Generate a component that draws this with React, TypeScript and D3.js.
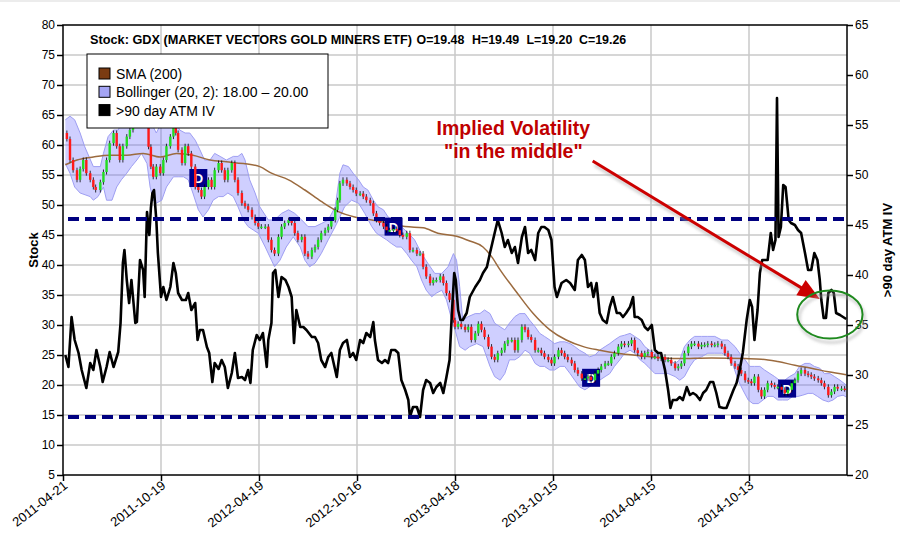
import React, { useEffect, useRef } from "react";
import * as d3 from "d3";

const TOTAL_DAYS = 1008;

const tickDays = [0, 126, 252, 378, 504, 630, 756, 882];
const tickLabels = ["2011-04-21", "2011-10-19", "2012-04-19", "2012-10-16", "2013-04-18", "2013-10-15", "2014-04-15", "2014-10-13"];
const stockTicks = [5, 10, 15, 20, 25, 30, 35, 40, 45, 50, 55, 60, 65, 70, 75, 80];
const ivTicks = [20, 25, 30, 35, 40, 45, 50, 55, 60, 65];

const priceDays = [3,5,9,13,18,22,26,30,35,39,42,48,52,56,60,65,69,73,77,82,86,90,95,99,103,107,110,113,116,120,125,129,133,138,142,145,148,153,157,161,165,170,174,178,182,187,191,195,200,204,208,212,217,221,225,230,234,238,243,247,251,255,260,264,268,272,277,281,285,290,294,298,302,307,311,315,320,324,328,332,337,341,345,350,353,356,360,365,369,373,377,382,386,390,395,399,403,407,412,416,420,425,429,433,437,442,446,450,455,459,463,467,472,476,480,485,489,493,497,502,504,508,512,517,521,525,530,534,538,542,547,551,555,559,564,568,572,577,581,585,590,594,598,602,607,611,615,619,624,628,632,637,641,645,649,654,658,662,667,671,675,679,684,688,692,697,701,705,709,714,718,722,727,731,735,739,744,748,752,757,761,765,769,774,778,782,787,791,795,799,804,808,812,817,821,825,829,834,838,842,847,851,855,859,864,868,872,877,881,885,889,894,898,902,906,911,915,919,924,928,932,937,941,945,949,954,958,962,966,971,975,979,984,988,992,996,1001,1005];
const priceClose = [62,61,57.5,55.8,54.2,56,57.5,55.3,54.2,53,52.5,53.8,55.5,57.5,60.3,62,59.8,57.5,59.8,61.4,62.5,63.6,65.3,65.8,64.2,65,59.7,56.4,54.7,56.4,55.3,57.5,59.8,61.4,63,62,59.2,57,59.8,58.6,56.4,53,52.5,51.4,53,54.2,53,55.8,57,55.8,54.2,55.8,57,54.2,52,50.3,49.8,49.2,48,47,46.4,46.4,46.4,44.2,42.5,41.9,44.7,46.4,47,47.5,47,45.3,44.2,44.7,41.9,41.4,42.5,43,44.2,45.3,45.8,46.4,47.5,49.2,50.8,53.6,54.2,53.6,53,52.5,51.9,51.9,51.4,50.8,50.3,48.6,47.5,47,46.4,45.8,45.8,46,45.8,45,44.7,45.3,42.5,42.5,41.9,41.9,39.7,38.1,37,37.5,37.5,38.1,37,35.3,34.2,30.8,29.7,30.2,29.7,29.2,29.7,27.5,28.6,30.2,29.2,28,26.4,24.7,24.2,25.3,25.8,26.9,27.5,27.5,25.8,27.5,29.7,29.2,28,27.5,25.8,25.8,25.3,24.7,24.2,23.6,24.7,25.8,25.3,24.7,24.2,23.6,22.5,21.9,21.1,21.1,21.4,20.8,21.9,22.5,23.1,23.6,23.6,24.7,25.3,26.4,26.9,26.7,26.9,27.5,25.8,25.3,24.7,25.3,25.5,24.7,24.7,24.4,24.7,24.2,24.2,23.6,22.8,23.1,23.6,25.3,26.4,26.9,26.9,26.4,26.7,26.7,26.9,26.7,26.7,26.9,26.4,25.3,24.7,23.6,23.1,22.5,21.9,20.8,20.6,20.3,21.4,19.2,18.1,19.2,20.3,20,19.7,19.7,19.2,18.6,19.2,20.3,20.8,21.9,22.5,21.9,21.7,21.4,21.1,20.8,20.3,19.7,18.3,18.9,19.7,19.4,19.4,19.3];

const bbUpperDays = [3,9,15,22,28,39,48,52,58,65,71,77,86,95,101,108,112,116,120,125,133,140,144,150,157,163,170,176,182,189,195,202,210,219,225,230,234,240,247,253,264,272,281,290,298,307,315,324,332,341,350,356,360,367,373,380,386,392,399,405,412,418,427,435,444,452,461,469,478,487,495,502,506,510,514,521,530,536,542,549,555,562,568,574,581,587,594,600,607,613,619,626,632,639,645,652,658,664,671,677,684,690,697,703,709,716,722,729,735,742,748,754,761,769,778,787,793,799,806,812,821,829,838,847,855,864,870,877,883,889,896,902,909,915,921,928,934,941,947,954,960,966,973,979,986,992,999,1007];
const bbUpper = [64.2,64.8,64.2,62,59.7,56.4,56.4,58.6,61.4,62.5,62.5,64.2,65.8,67.5,69.7,69.7,66.7,63,62,63.3,63.3,64.8,64.2,62.5,62,62,60.8,59.2,57.5,57.5,58.6,58.1,57.5,58.1,58.1,58.6,57.5,54.2,52,49.7,47.5,47.5,48.6,49.2,48.6,47.5,46.4,46.4,46.9,47.5,49.7,55.3,56.7,56.4,55.3,54.2,53,52.5,50.8,49.7,49.2,48,47,46.4,45.3,44.2,41.9,40.3,38.6,38.6,39.7,41.9,40.8,36.4,30.8,31.4,31.9,31.9,32.5,31.9,30.3,29.7,29.2,30.3,31.4,31.9,31.9,30.8,29.7,28.6,28.1,27.5,26.9,27.2,27.2,26.9,26.4,25.8,25.3,24.7,25,25.8,26.4,26.9,27.5,28.1,28.3,28.6,28.1,27.5,26.4,25.8,25.3,24.7,24.2,23.6,24.2,26.4,27.5,28.1,28.1,28.1,28.1,27.5,27.5,26.4,25.3,24.2,23.1,23.1,23.1,22.5,21.9,21.4,20.8,20.8,21.4,21.9,23.1,23.6,23.6,23.1,22.8,21.9,21.9,21.4,20.8,20];

const bbLowerDays = [3,9,15,22,35,39,45,52,56,63,69,75,82,88,95,101,108,112,116,120,127,133,142,148,155,161,167,174,180,187,193,200,206,212,219,225,232,238,245,251,260,268,272,279,287,296,305,311,317,324,332,341,350,356,362,371,380,388,397,403,410,416,422,429,435,442,448,455,461,467,474,480,487,493,500,504,510,517,523,532,540,549,555,562,568,574,581,587,594,600,607,613,619,626,632,639,645,652,658,664,671,677,684,690,697,703,709,716,722,729,735,742,748,752,761,769,778,787,793,799,806,812,821,829,838,847,855,862,868,874,881,887,894,900,906,913,919,925,932,938,945,951,958,964,970,977,984,990,996,1003,1007];
const bbLower = [56.9,55.3,53,52,51.4,50.8,51.4,53,50.8,50.8,53,54.2,55.3,56.4,57.5,58.6,56.9,53,50.8,50.3,50.8,53,54.7,54.7,54.7,54.2,52,49.2,48,49.2,50.8,51.4,51.4,52,51.4,49.7,47.5,46.4,45.8,45.3,43,40.8,39.7,40.8,43,44.7,43,40.8,39.7,40.3,41.9,44.2,46.4,48,49.7,50.8,50.3,48.6,46.4,45.3,44.7,44.2,43.6,43,43,41.9,40.8,39.7,37.5,35.8,34.7,35.3,35.8,34.2,30.8,29.2,26.4,25.8,26.4,26.9,26.4,23.1,21.4,20.8,21.9,24.2,24.2,24.7,25.8,25.3,23.6,23.1,23.1,22.5,22.5,23.1,23.1,21.9,20.8,19.7,19.2,19.7,20.3,20.8,21.4,21.9,23.1,24.2,25.3,25.8,25.3,24.2,23.6,23.1,21.9,21.9,21.9,21.4,20.8,21.4,23.1,24.2,24.7,25.3,25.3,25.3,24.7,23.1,20.8,19.2,17.5,16.9,16.9,17.5,18.1,18.1,17.5,17.5,17.5,18.1,18.1,18.3,18.6,18.6,18.1,17.5,17.2,17.5,18.1,18.3,18];

const smaDays = [3,18,39,60,82,103,125,146,167,189,210,232,253,268,290,311,332,354,375,397,418,440,463,482,506,523,540,551,562,583,604,626,647,669,690,712,733,755,791,834,877,898,919,941,962,984,1007];
const sma200 = [56.7,57.5,58,58.3,58.3,58.6,58,58.6,58.3,57.5,57.2,56.9,56.4,55.3,54.2,52.5,50.6,48.9,48,47.5,47,46.4,46.2,45.3,44.8,44,43,41.4,39.2,35.5,32,29.2,27.5,26.4,25.8,25.3,25,24.7,24.4,24.5,24.4,24.3,23.9,23.3,22.8,22.2,21.7];

const ivDays = [3,7,11,15,20,24,30,35,39,43,48,51,56,60,65,71,74,77,79,82,85,88,93,95,99,103,105,108,111,113,115,117,120,122,126,129,133,138,142,145,148,153,158,161,165,170,173,176,180,185,188,192,195,200,204,208,212,217,221,225,230,234,238,241,244,249,253,257,262,264,268,270,273,277,281,286,290,294,297,300,305,309,313,320,324,328,332,337,341,345,352,356,360,365,369,373,377,382,386,390,395,399,401,405,410,414,418,422,427,431,435,440,444,446,450,455,459,463,467,472,476,480,485,489,493,497,500,503,505,508,511,514,519,523,530,536,540,545,549,552,555,559,564,568,572,577,581,585,590,594,598,602,607,611,615,619,624,628,632,635,641,647,652,658,662,667,671,675,679,682,686,690,694,699,703,707,712,716,720,724,729,733,735,739,744,748,752,757,761,765,769,774,778,781,784,789,793,797,802,806,810,814,819,823,827,832,836,840,844,849,853,857,862,866,870,874,879,883,886,889,893,896,899,902,906,910,913,916,918,920,923,926,929,931,933,936,941,945,949,954,958,962,966,970,973,975,978,981,984,988,991,994,999,1003,1007];
const ivValues = [32,30.8,35.8,33.5,32.2,30.5,28.7,31.2,30.5,32.5,30.8,29.3,30.8,32.3,30.8,32.3,35.2,41.2,42.5,39.5,37.2,39.5,35.2,35.3,41.5,40.5,37.8,46.3,44,46.7,48.2,48.5,45.5,42.2,37.8,38.8,37.5,38.8,41.2,40.2,38.2,37.5,37.5,38.2,36.5,37.2,33.5,34.5,34.5,32.8,32.2,29.3,31.2,30.6,31.5,30.8,28.7,30.2,32.2,29.7,29.8,29.5,30.5,29.2,32.5,34,33.5,34.2,30.8,33.5,35.2,40.2,40.5,37.8,39.8,39.5,38.8,37.8,33.2,36.5,34.8,34.8,34.5,33.8,33.8,33.2,31.5,30.8,31.8,32.2,29.8,32.5,33.2,33.5,31.8,32.2,31.5,33.5,33.2,34.2,33.8,35.3,33.5,31.5,31.2,31.5,31.2,32.5,32.5,32.2,29.5,28.5,27.5,25.8,26.8,26.8,25.8,28.5,29.5,29.2,28.2,28.8,29.2,28.2,29.8,31.5,36.2,40.2,39.5,36.5,35.5,35.5,36.2,37.8,38.8,39.5,40.2,40.8,42.2,43.2,44.2,45.5,44.2,42.8,43.5,42.2,42.8,41.2,43.8,44.8,42.2,42.5,41.5,44.2,44.8,44.8,44.5,43.5,38.8,37.8,39.2,39.5,39.2,38.5,41.5,42,41.5,38.8,39.2,37.8,39.2,36.2,35.5,35.2,36.8,37.8,36.2,36.2,35.8,36.2,36.8,37.8,35.8,35.8,35.5,34.8,34.5,35,32.5,32.2,32.2,30.5,28.5,26.7,27.5,27.5,27.8,27.5,28.8,28,28.2,28,27.5,28.2,28.5,29.3,29.3,28.2,26.8,26.7,26.7,27.5,28.5,29.2,30.5,32.2,35.5,37.5,36.8,33.5,36.5,40.2,41.5,41.5,41.5,44.2,42.5,43.5,57.7,43.8,44.8,49,48.8,47.2,45.5,45.2,45,44.5,44.2,42.2,40.5,40.5,42.2,41.5,39.5,37.5,35.7,35.7,38.2,38.5,38.2,36.2,36,35.8,35.6];

const ivLevels = [45.6, 25.8];

const dividendDays = [174, 425, 679, 931];
const dividendPrice = [54.5, 46.4, 21.2, 19.4];

const titleText = "Stock: GDX (MARKET VECTORS GOLD MINERS ETF)";
const ohlcItems = ["O=19.48", "H=19.49", "L=19.20", "C=19.26"];
const ohlcX = [416.5, 472, 526.5, 579];
const legendItems = [
  { label: "SMA (200)", color: "#7a3b12" },
  { label: "Bollinger (20, 2): 18.00 \u2013 20.00", color: "#a4a4f4" },
  { label: ">90 day ATM IV", color: "#000000" },
];
const noteLines = ["Implied Volatility", "\"in the middle\""];
// annotation anchors in data space: [day, IV]
const noteAnchor = [579, 54.0];
const arrowFrom = [681, 51.4];
const arrowTo = [973, 37.6];
const circleCenter = [986, 36.05];
const circleRadius = [42, 2.4];

const FONT = "'Liberation Sans', Arial, Helvetica, sans-serif";

export default function App() {
  const ref = useRef<SVGSVGElement>(null);

  useEffect(() => {
    const svg = d3.select(ref.current);
    svg.selectAll("*").remove();

    const L = 63, R = 847, T = 25, B = 475;
    const x = d3.scaleLinear().domain([0, TOTAL_DAYS]).range([L, R]);
    const yS = d3.scaleLinear().domain([5, 80]).range([B, T]);
    const yV = d3.scaleLinear().domain([20, 65]).range([B, T]);

    const defs = svg.append("defs");
    const f = defs.append("filter").attr("id", "blur").attr("x", "-10%").attr("y", "-50%").attr("width", "120%").attr("height", "200%");
    f.append("feGaussianBlur").attr("stdDeviation", 1.6);
    defs.append("clipPath").attr("id", "plot").append("rect").attr("x", L).attr("y", T).attr("width", R - L).attr("height", B - T);

    svg.append("rect").attr("width", 900).attr("height", 546).attr("fill", "#ffffff");
    svg.append("rect").attr("width", 900).attr("height", 2).attr("fill", "#ececec");

    // grid
    const grid = svg.append("g").attr("stroke", "#c9c9c9").attr("stroke-width", 1.5);
    stockTicks.filter((v) => v > 5 && v < 80).forEach((v) => {
      grid.append("line").attr("x1", L).attr("x2", R).attr("y1", yS(v)).attr("y2", yS(v));
    });
    tickDays.filter((d) => d > 0).forEach((d) => {
      grid.append("line").attr("x1", x(d)).attr("x2", x(d)).attr("y1", T).attr("y2", B);
    });

    const plot = svg.append("g").attr("clip-path", "url(#plot)");

    // Bollinger band
    const up = bbUpperDays.map((d, i) => [x(d), yS(bbUpper[i])] as [number, number]);
    const lo = bbLowerDays.map((d, i) => [x(d), yS(bbLower[i])] as [number, number]);
    const bandLine = d3.line<[number, number]>().curve(d3.curveLinear);
    plot.append("path").attr("d", bandLine(up.concat(lo.slice().reverse())) + "Z")
      .attr("fill", "rgba(110,110,255,0.33)").attr("stroke", "none");
    plot.append("path").attr("d", bandLine(up)).attr("fill", "none").attr("stroke", "#9e9ef2").attr("stroke-width", 1);
    plot.append("path").attr("d", bandLine(lo)).attr("fill", "none").attr("stroke", "#9e9ef2").attr("stroke-width", 1);

    // SMA 200
    const smaLine = d3.line<number>().x((_, i) => x(smaDays[i])).y((v) => yS(v)).curve(d3.curveMonotoneX);
    plot.append("path").attr("d", smaLine(sma200)).attr("fill", "none").attr("stroke", "#9b6a3e").attr("stroke-width", 1.5);

    // dividend markers
    dividendDays.forEach((d, i) => {
      const cx = x(d), cy = yS(dividendPrice[i]);
      plot.append("rect").attr("x", cx - 9).attr("y", cy - 9).attr("width", 18).attr("height", 18).attr("fill", "#00008b");
      plot.append("text").attr("x", cx).attr("y", cy + 5).attr("text-anchor", "middle").attr("fill", "#ffffff")
        .attr("font-family", FONT).attr("font-weight", "bold").attr("font-size", 13).text("D");
    });

    // candles
    const cg = plot.append("g");
    priceClose.forEach((c, i) => {
      if (i === 0) return;
      const o = priceClose[i - 1];
      const cx = x(priceDays[i]);
      const hi = yS(Math.max(o, c)), lw = yS(Math.min(o, c));
      cg.append("line").attr("x1", cx).attr("x2", cx).attr("y1", hi - 2.5).attr("y2", lw + 2.5).attr("stroke", "#000").attr("stroke-width", 0.8);
      cg.append("rect").attr("x", cx - 1.2).attr("y", hi).attr("width", 2.4).attr("height", Math.max(1.5, lw - hi))
        .attr("fill", c >= o ? "#22dd22" : "#ff1a1a");
    });

    // IV line
    const ivLine = d3.line<number>().x((_, i) => x(ivDays[i])).y((v) => yV(v));
    plot.append("path").attr("d", ivLine(ivValues)).attr("fill", "none").attr("stroke", "#000").attr("stroke-width", 2.6)
      .attr("stroke-linejoin", "round");

    // dashed levels
    ivLevels.forEach((lv) => {
      const yy = yV(lv);
      svg.append("line").attr("x1", L + 5).attr("x2", R).attr("y1", yy + 5).attr("y2", yy + 5)
        .attr("stroke", "#9a9a9a").attr("stroke-width", 4).attr("stroke-dasharray", "11 6").attr("filter", "url(#blur)").attr("opacity", 0.75);
      svg.append("line").attr("x1", L + 5).attr("x2", R).attr("y1", yy).attr("y2", yy)
        .attr("stroke", "#000080").attr("stroke-width", 4).attr("stroke-dasharray", "11 6");
    });

    // frame
    const frame = svg.append("g").attr("stroke", "#000").attr("stroke-width", 1.5).attr("fill", "none");
    frame.append("rect").attr("x", L).attr("y", T).attr("width", R - L).attr("height", B - T);

    // axes
    const la = svg.append("g").attr("transform", `translate(${L},0)`).call(d3.axisLeft(yS).tickValues(stockTicks).tickSize(6).tickPadding(2).tickFormat(d3.format("d")));
    la.select(".domain").remove();
    la.selectAll("line").attr("stroke", "#000").attr("stroke-width", 1.5);
    la.selectAll("text").attr("font-family", FONT).attr("font-size", 12).attr("fill", "#000");

    const ra = svg.append("g").attr("transform", `translate(${R},0)`).call(d3.axisRight(yV).tickValues(ivTicks).tickSize(6).tickPadding(2).tickFormat(d3.format("d")));
    ra.select(".domain").remove();
    ra.selectAll("line").attr("stroke", "#000").attr("stroke-width", 1.5);
    ra.selectAll("text").attr("font-family", FONT).attr("font-size", 12).attr("fill", "#000");

    const ba = svg.append("g").attr("transform", `translate(0,${B})`).call(d3.axisBottom(x).tickValues(tickDays).tickSize(6).tickFormat((_, i) => tickLabels[i]));
    ba.select(".domain").remove();
    ba.selectAll("line").attr("stroke", "#000").attr("stroke-width", 1.5);
    ba.selectAll("text").attr("font-family", FONT).attr("font-size", 13).attr("fill", "#000")
      .attr("text-anchor", "end").attr("dy", 0).attr("y", 0)
      .attr("transform", "translate(5,12) rotate(-38)");

    // axis titles
    svg.append("text").attr("transform", `translate(38,250) rotate(-90)`).attr("text-anchor", "middle")
      .attr("font-family", FONT).attr("font-weight", "bold").attr("font-size", 13).text("Stock");
    svg.append("text").attr("transform", `translate(892,250) rotate(-90)`).attr("text-anchor", "middle")
      .attr("font-family", FONT).attr("font-weight", "bold").attr("font-size", 13).text(">90 day ATM IV");

    // title
    svg.append("text").attr("x", 90).attr("y", 44).attr("font-family", FONT).attr("font-weight", "bold")
      .attr("font-size", 12.4).attr("textLength", 322).attr("lengthAdjust", "spacingAndGlyphs").text(titleText);
    ohlcItems.forEach((t, i) => {
      svg.append("text").attr("x", ohlcX[i]).attr("y", 44).attr("font-family", FONT).attr("font-weight", "bold")
        .attr("font-size", 12.4).text(t);
    });

    // legend
    const lg = svg.append("g");
    lg.append("rect").attr("x", 87).attr("y", 54).attr("width", 241).attr("height", 74).attr("fill", "#fff").attr("stroke", "#000").attr("stroke-width", 1);
    legendItems.forEach((it, i) => {
      const yy = 68 + i * 18.3;
      lg.append("rect").attr("x", 99).attr("y", yy).attr("width", 11).attr("height", 11).attr("fill", it.color).attr("stroke", "#000").attr("stroke-width", 1);
      lg.append("text").attr("x", 116).attr("y", yy + 11).attr("font-family", FONT).attr("font-size", 14).attr("fill", "#000").text(it.label);
    });

    // annotation
    noteLines.forEach((t, i) => {
      svg.append("text").attr("x", x(noteAnchor[0])).attr("y", yV(noteAnchor[1]) + i * 23.3).attr("text-anchor", "middle")
        .attr("font-family", FONT).attr("font-weight", "bold").attr("font-size", 19.5).attr("fill", "#c00000").text(t);
    });
    const ax1 = x(arrowFrom[0]), ay1 = yV(arrowFrom[1]), ax2 = x(arrowTo[0]), ay2 = yV(arrowTo[1]);
    const len = Math.hypot(ax2 - ax1, ay2 - ay1);
    const ux = (ax2 - ax1) / len, uy = (ay2 - ay1) / len;
    const hl = 22, hw = 9;
    const bx = ax2 - ux * hl, by = ay2 - uy * hl;
    const head = [[ax2, ay2], [bx - uy * hw, by + ux * hw], [bx + uy * hw, by - ux * hw]] as [number, number][];
    const ag = svg.append("g");
    ag.append("line").attr("x1", ax1 + 2).attr("y1", ay1 + 4).attr("x2", bx + 2).attr("y2", by + 4).attr("stroke", "#aaa").attr("stroke-width", 3).attr("filter", "url(#blur)").attr("opacity", 0.6);
    ag.append("line").attr("x1", ax1).attr("y1", ay1).attr("x2", bx + ux * 2).attr("y2", by + uy * 2).attr("stroke", "#cc0000").attr("stroke-width", 3);
    ag.append("path").attr("d", d3.line()(head) + "Z").attr("fill", "#cc0000");

    const ecx = x(circleCenter[0]), ecy = yV(circleCenter[1]);
    const erx = x(circleRadius[0]) - x(0), ery = yV(0) - yV(circleRadius[1]);
    svg.append("ellipse").attr("cx", ecx + 2).attr("cy", ecy + 4).attr("rx", erx).attr("ry", ery).attr("fill", "none")
      .attr("stroke", "#aaa").attr("stroke-width", 2.5).attr("filter", "url(#blur)").attr("opacity", 0.6);
    svg.append("ellipse").attr("cx", ecx).attr("cy", ecy).attr("rx", erx).attr("ry", ery).attr("fill", "none")
      .attr("stroke", "#1f8a1f").attr("stroke-width", 2);
  }, []);

  return (
    <div style={{ position: "absolute", left: 0, top: 0, width: 900, height: 546 }}>
      <svg ref={ref} width={900} height={546} style={{ display: "block" }} />
    </div>
  );
}
